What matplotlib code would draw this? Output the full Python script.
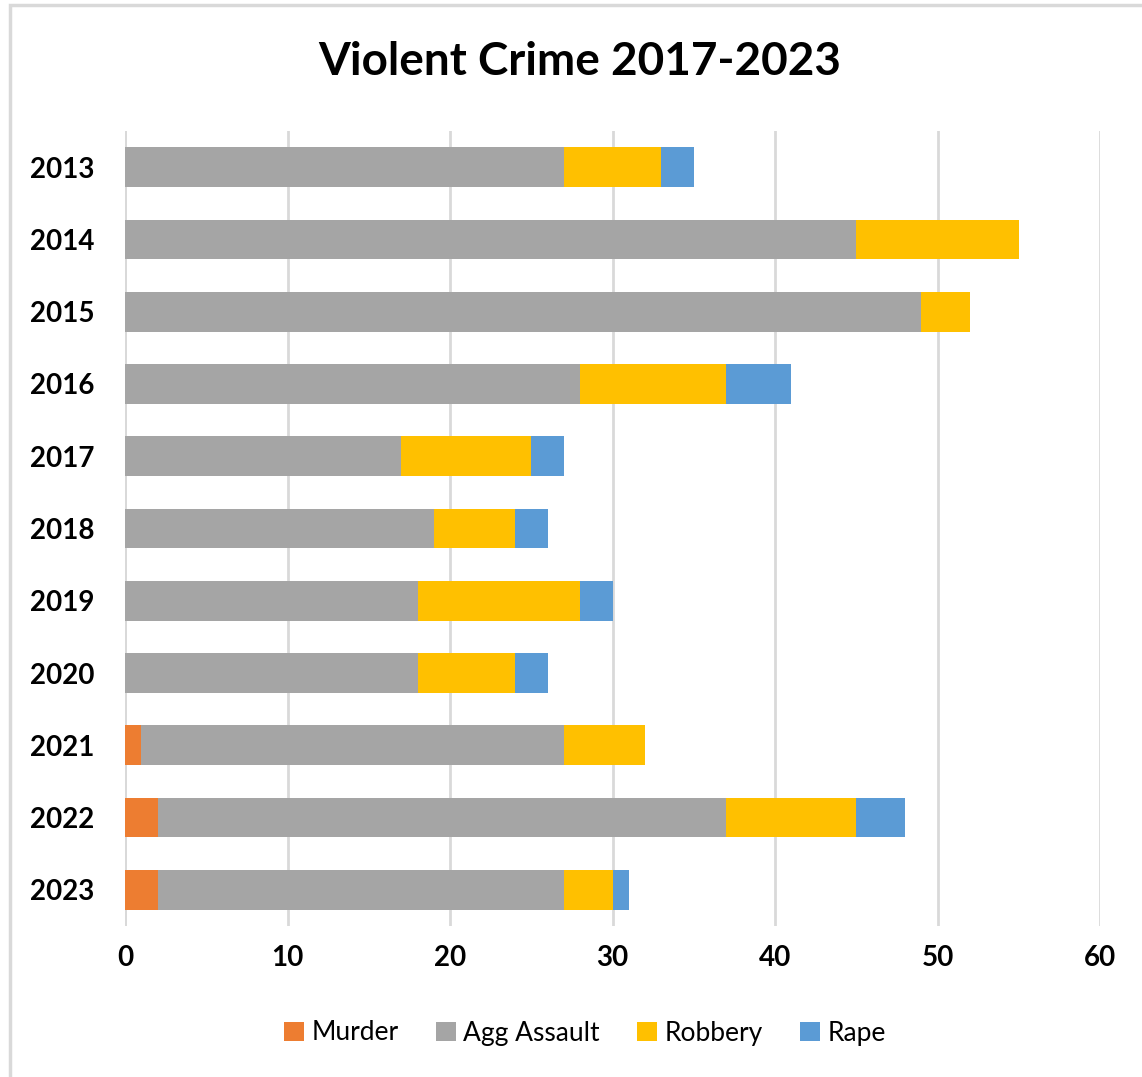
import matplotlib
matplotlib.use('Agg')
import matplotlib.pyplot as plt
import numpy as np

years = ['2013', '2014', '2015', '2016', '2017', '2018', '2019', '2020', '2021', '2022', '2023']
murder = [0, 0, 0, 0, 0, 0, 0, 0, 1, 2, 2]
agg_assault = [27, 45, 49, 28, 17, 19, 18, 18, 26, 35, 25]
robbery = [6, 10, 3, 9, 8, 5, 10, 6, 5, 8, 3]
rape = [2, 0, 0, 4, 2, 2, 2, 2, 0, 3, 1]

series = [('Murder', murder, '#ED7D31'),
          ('Agg Assault', agg_assault, '#A5A5A5'),
          ('Robbery', robbery, '#FFC000'),
          ('Rape', rape, '#5B9BD5')]

plt.rcParams['font.family'] = ['Lato', 'DejaVu Sans']

fig = plt.figure(figsize=(11.42, 10.77), dpi=100)
W, H = 1142, 1077
ax = fig.add_axes([125 / W, 1 - 926 / H, (1100 - 125) / W, (926 - 131) / H])

# chart border
fig.patches.append(plt.Rectangle((10 / W, -0.01), 1.0, 1 - 5 / H + 0.01, transform=fig.transFigure,
                                 fill=False, edgecolor='#d9d9d9', linewidth=2.5))

y = np.arange(len(years))
left = np.zeros(len(years))
for name, vals, color in series:
    vals = np.array(vals)
    ax.barh(y, vals, left=left, height=0.55, color=color, label=name, zorder=3)
    left += vals

ax.set_xlim(0, 60)
ax.set_ylim(len(years) - 0.5, -0.5)
ax.set_xticks(range(0, 61, 10))
ax.set_yticks(y)
ax.set_yticklabels(years)
ax.grid(axis='x', color='#d9d9d9', linewidth=2, zorder=0)
for s in ax.spines.values():
    s.set_visible(False)
ax.axvline(0, color='#d9d9d9', linewidth=2, zorder=1)
ax.tick_params(length=0, labelsize=20)
ax.tick_params(axis='y', pad=22)
ax.tick_params(axis='x', pad=14)
for lbl in ax.get_xticklabels() + ax.get_yticklabels():
    lbl.set_fontweight('bold')

fig.text(580 / W, 1 - 62 / H, 'Violent Crime 2017-2023', ha='center', va='center',
         fontsize=33, fontweight='bold')

fig.legend(loc='center', bbox_to_anchor=(585 / W, 1 - 1033 / H), ncol=4, frameon=False,
           fontsize=19, handlelength=0.75, handleheight=0.75, handletextpad=0.3, columnspacing=1.4)

fig.savefig('out.png', dpi=100)
